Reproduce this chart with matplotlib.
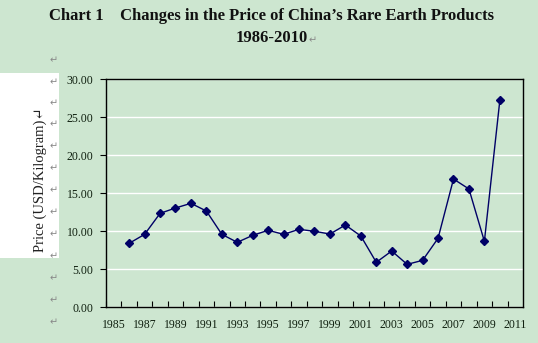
import matplotlib
matplotlib.use("Agg")
import matplotlib.pyplot as plt
from matplotlib.patches import Rectangle
from matplotlib.ticker import FixedLocator, FormatStrFormatter

# Rare earth product price, USD per kilogram
years = list(range(1986, 2011))
prices = [8.38, 9.56, 12.32, 13.03, 13.64, 12.63, 9.56, 8.51, 9.43, 10.09,
          9.56, 10.22, 9.96, 9.60, 10.79, 9.34, 5.88, 7.37, 5.61, 6.14,
          9.04, 16.84, 15.53, 8.64, 27.19]

year_labels = list(range(1985, 2012, 2))
price_ticks = [0, 5, 10, 15, 20, 25, 30]

bg = '#cde6d0'
navy = '#000066'
serif = ['Liberation Serif', 'DejaVu Serif']

fig = plt.figure(figsize=(5.38, 3.43), dpi=100, facecolor=bg)
ax = fig.add_axes([106 / 538, 36 / 343, 417 / 538, 228 / 343])
ax.set_facecolor(bg)

# white box behind the axis title
fig.patches.append(Rectangle((0, 85 / 343), 59 / 538, 185 / 343,
                             transform=fig.transFigure, facecolor='white',
                             edgecolor='none', zorder=0))

ax.plot(years, prices, color=navy, linewidth=1.0, marker='D',
        markersize=4.5, markerfacecolor=navy, markeredgecolor=navy, zorder=3)

ax.set_xlim(1984.5, 2011.5)
ax.set_ylim(0, 30)

ax.yaxis.set_major_locator(FixedLocator(price_ticks))
ax.yaxis.set_major_formatter(FormatStrFormatter('%.2f'))
ax.grid(axis='y', color='white', linewidth=1.0)
ax.set_axisbelow(True)

ax.set_xticks(year_labels)
ax.set_xticklabels([str(y) for y in year_labels])
ax.xaxis.set_minor_locator(FixedLocator([y + 0.5 for y in range(1984, 2011)]))
ax.tick_params(axis='x', which='major', length=0, pad=9)
ax.tick_params(axis='x', which='minor', direction='in', length=4, width=0.8)
ax.tick_params(axis='y', direction='out', length=4, width=0.8, pad=5)

for lab in ax.get_xticklabels() + ax.get_yticklabels():
    lab.set_fontfamily(serif)
    lab.set_fontsize(8.5)
    lab.set_color('#102010')

for sp in ax.spines.values():
    sp.set_color('black')
    sp.set_linewidth(1.0)

fig.text(0.505, 1 - 16 / 343,
         'Chart 1    Changes in the Price of China\u2019s Rare Earth Products',
         ha='center', va='center', fontsize=12, fontweight='bold',
         family=serif, color='#111111')
fig.text(0.505, 1 - 38 / 343, '1986-2010', ha='center', va='center',
         fontsize=12, fontweight='bold', family=serif, color='#111111')
fig.text(309 / 538, 1 - 40 / 343, '\u21b5', ha='left', va='center',
         fontsize=7, color='#888888', family=['DejaVu Sans'])

fig.text(40 / 538, 1 - 180 / 343, 'Price (USD/Kilogram)\u21b5', rotation=90,
         ha='center', va='center', fontsize=10.5, family=serif,
         color='#222222')

# paragraph marks down the left margin
for yp in [60, 82, 103, 124, 146, 168, 190, 212, 234, 256, 278, 300, 322]:
    fig.text(54 / 538, 1 - yp / 343, '\u21b5', ha='center', va='center',
             fontsize=7, color='#888888', family=['DejaVu Sans'])

fig.savefig('out.png', dpi=100, facecolor=bg)
